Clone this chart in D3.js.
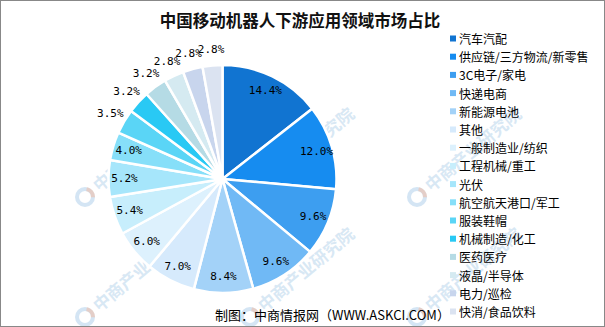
<!DOCTYPE html>
<html>
<head>
<meta charset="utf-8">
<script src="https://cdn.jsdelivr.net/npm/d3@7"></script>
<style>
  html, body { margin: 0; padding: 0; background: #fff; }
  svg { display: block; }
</style>
</head>
<body>
<svg id="chart" width="605" height="327"></svg>
<script>
// Downstream application fields of mobile robots in China (share, %)
const categories = [
  "汽车汽配", "供应链/三方物流/新零售", "3C电子/家电", "快递电商", "新能源电池",
  "其他", "一般制造业/纺织", "工程机械/重工", "光伏", "航空航天港口/军工",
  "服装鞋帽", "机械制造/化工", "医药医疗", "液晶/半导体", "电力/巡检", "快消/食品饮料"
];
const shares = [14.4, 12.0, 9.6, 9.6, 8.4, 7.0, 6.0, 5.4, 5.2, 4.0, 3.5, 3.2, 3.2, 2.8, 2.8, 2.8];
const palette = [
  "#1174d1", "#168cf0", "#3d9ef0", "#70b9f5", "#a3d2f8", "#d6eafc", "#ddf1fd", "#c7eefc",
  "#a6e6fb", "#86dff9", "#5ad5f6", "#29c9f4", "#b5dbe5", "#d5eaf1", "#c8d5ed", "#dbe3f1"
];
const titleText = "中国移动机器人下游应用领域市场占比";
const sourceText = "制图：中商情报网（WWW.ASKCI.COM）";
const watermarkText = "中商产业研究院";

const W = 605, H = 327;
const cx = 222.5, cy = 179, R = 114;
const svg = d3.select("#chart");

svg.append("rect").attr("width", W).attr("height", H).attr("fill", "#fff");

const color = d3.scaleOrdinal().domain(categories).range(palette);
const pie = d3.pie().sort(null).value(d => d.v).startAngle(0).endAngle(2 * Math.PI);
const arcs = pie(categories.map((c, i) => ({ c, v: shares[i] })));
const arc = d3.arc().innerRadius(0).outerRadius(R);

const g = svg.append("g").attr("transform", `translate(${cx},${cy})`);
g.selectAll("path.slice").data(arcs).join("path")
  .attr("class", "slice")
  .attr("d", arc)
  .attr("fill", d => color(d.data.c))
  .attr("stroke", "#fff")
  .attr("stroke-width", 2.5)
  .attr("stroke-linejoin", "round");

// faint tiled watermark over the plot
const wm = svg.append("g").attr("pointer-events", "none");
const wmX = [85, 250, 417];
const wmY = [197, 317];
wmX.forEach(x => wmY.forEach(y => {
  const t = wm.append("g").attr("transform", `translate(${x},${y})`);
  t.append("circle").attr("r", 8).attr("fill", "none")
    .attr("stroke", "#9fc6e6").attr("stroke-width", 4).attr("opacity", 0.45);
  t.append("path")
    .attr("d", d3.arc().innerRadius(6).outerRadius(10).startAngle(0.2).endAngle(1.6)())
    .attr("fill", "#f3b79c").attr("opacity", 0.5);
  t.append("text")
    .attr("transform", "rotate(-40) translate(14,6)")
    .attr("font-family", "'Noto Sans CJK SC', sans-serif")
    .attr("font-weight", 700)
    .attr("font-size", 17)
    .attr("fill", "#9fc6e6")
    .attr("opacity", 0.4)
    .text(watermarkText);
}));

// value labels: inside for large slices, just outside the rim for small ones
const labelArcIn = d3.arc().innerRadius(98).outerRadius(98);
const labelArcOut = d3.arc().innerRadius(130).outerRadius(130);
g.selectAll("text.val").data(arcs).join("text")
  .attr("class", "val")
  .attr("transform", d => `translate(${(d.data.v >= 4 ? labelArcIn : labelArcOut).centroid(d)})`)
  .attr("text-anchor", "middle")
  .attr("dominant-baseline", "central")
  .attr("font-family", "'DejaVu Sans Mono', 'Liberation Mono', monospace")
  .attr("font-size", 11)
  .attr("fill", "#000")
  .text(d => d.data.v.toFixed(1) + "%");
g.raise();

// title
svg.append("text")
  .attr("x", 300).attr("y", 27)
  .attr("text-anchor", "middle")
  .attr("font-family", "'Noto Sans CJK SC', sans-serif")
  .attr("font-weight", 700)
  .attr("font-size", 16.5)
  .attr("fill", "#111")
  .text(titleText);

// legend
const leg = svg.append("g");
const legY = d3.scalePoint().domain(categories).range([38.5, 311.5]);
const rows = leg.selectAll("g").data(categories).join("g")
  .attr("transform", d => `translate(450,${legY(d)})`);
rows.append("rect")
  .attr("x", 0).attr("y", -3).attr("width", 6).attr("height", 6)
  .attr("fill", d => color(d));
rows.append("text")
  .attr("x", 9).attr("y", 0)
  .attr("dominant-baseline", "central")
  .attr("font-family", "'Noto Sans CJK SC', sans-serif")
  .attr("font-size", 12)
  .attr("fill", "#000")
  .text(d => d);

// source note
svg.append("text")
  .attr("x", 215).attr("y", 320)
  .attr("font-family", "'Noto Sans CJK SC', sans-serif")
  .attr("font-size", 13)
  .attr("fill", "#000")
  .text(sourceText);

// frame
svg.append("rect").attr("x", 0.5).attr("y", 0.5).attr("width", W - 1).attr("height", H - 1)
  .attr("fill", "none").attr("stroke", "#888").attr("stroke-width", 1);
</script>
</body>
</html>
